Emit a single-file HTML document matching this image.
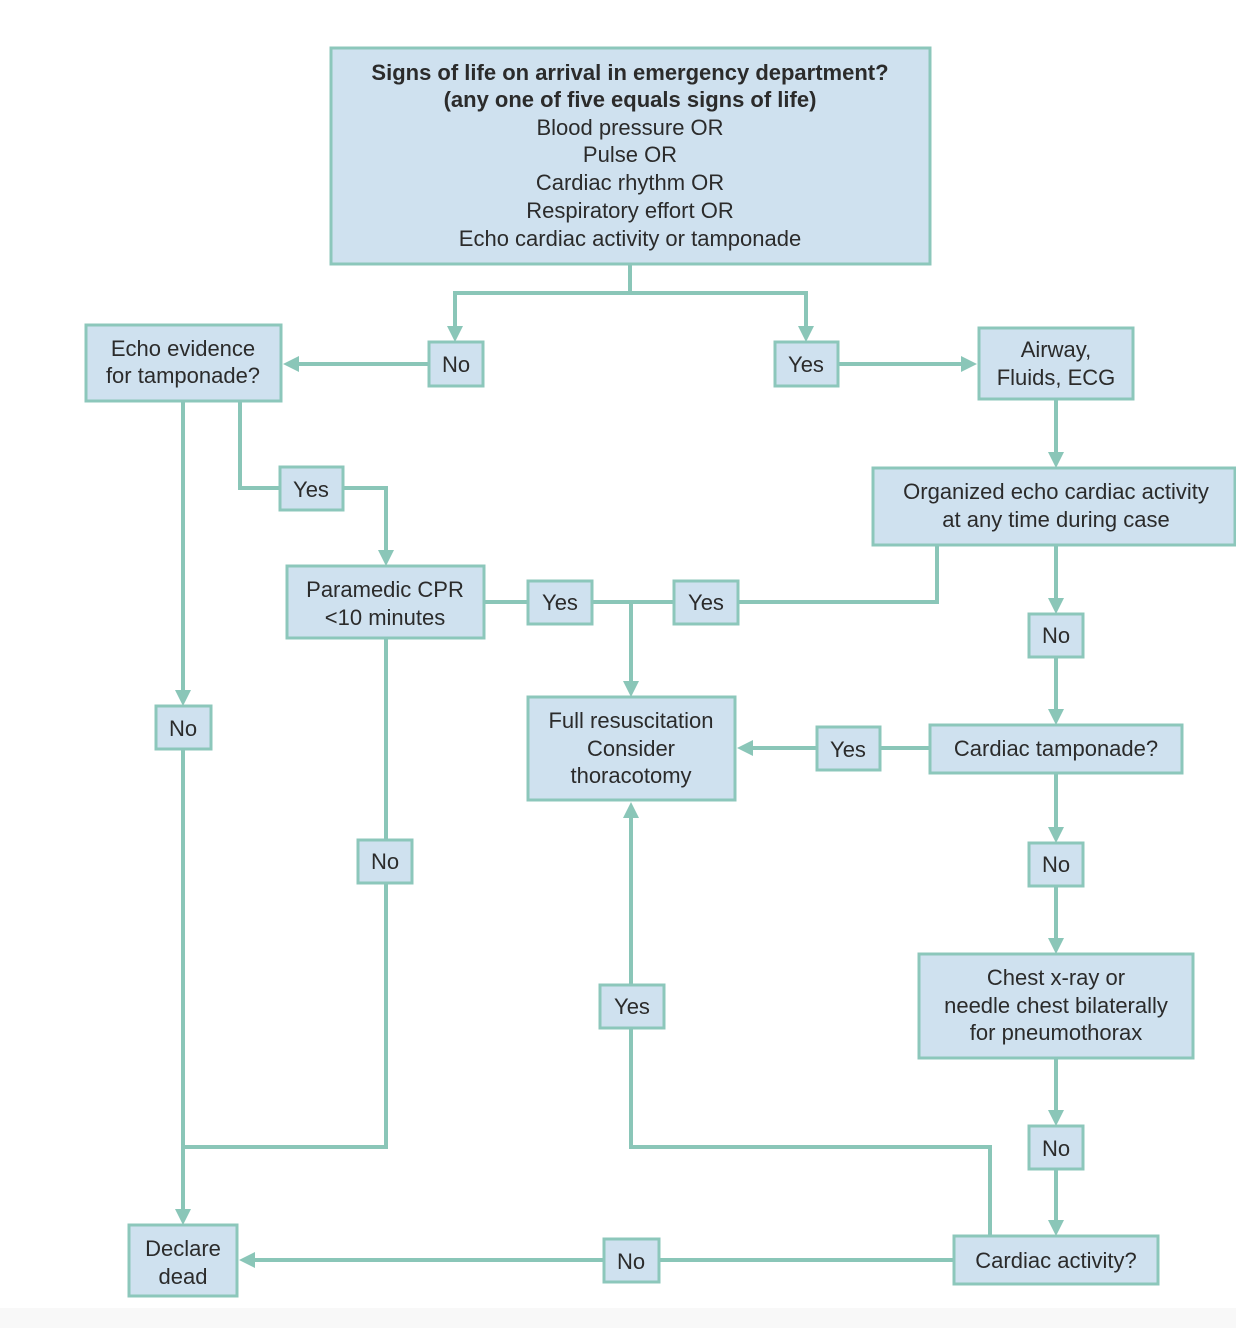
<!DOCTYPE html>
<html><head><meta charset="utf-8"><style>
html,body{margin:0;padding:0;background:#fff}
svg{display:block}
text{font-family:"Liberation Sans",Arial,sans-serif;font-size:22px;fill:#2b2b2b;text-anchor:middle}
.b{fill:#cfe1ef;stroke:#8cc7bb;stroke-width:3}
.l{fill:none;stroke:#8ac6b8;stroke-width:4}
.a{fill:#8ac6b8}
</style></head><body>
<svg width="1236" height="1328" viewBox="0 0 1236 1328" xmlns="http://www.w3.org/2000/svg">
<rect x="0" y="1308" width="1236" height="20" fill="#f8f8f8"/>
<!-- lines -->
<g class="l">
<polyline points="630,264 630,293"/>
<polyline points="455,336 455,293 806,293 806,336"/>
<line x1="429" y1="364" x2="296" y2="364"/>
<line x1="838" y1="364" x2="965" y2="364"/>
<line x1="1056" y1="399" x2="1056" y2="456"/>
<line x1="183" y1="401" x2="183" y2="694"/>
<line x1="183" y1="749" x2="183" y2="1212"/>
<polyline points="240,401 240,488 280,488"/>
<polyline points="343,488 386,488 386,554"/>
<line x1="484" y1="602" x2="528" y2="602"/>
<line x1="592" y1="602" x2="674" y2="602"/>
<line x1="631" y1="602" x2="631" y2="685"/>
<polyline points="738,602 937,602 937,545"/>
<line x1="1056" y1="545" x2="1056" y2="602"/>
<line x1="1056" y1="657" x2="1056" y2="713"/>
<line x1="930" y1="748" x2="880" y2="748"/>
<line x1="817" y1="748" x2="750" y2="748"/>
<line x1="1056" y1="773" x2="1056" y2="831"/>
<line x1="1056" y1="886" x2="1056" y2="942"/>
<line x1="1056" y1="1058" x2="1056" y2="1114"/>
<line x1="1056" y1="1169" x2="1056" y2="1224"/>
<line x1="386" y1="638" x2="386" y2="840"/>
<polyline points="386,883 386,1147 183,1147"/>
<polyline points="990,1236 990,1147 631,1147 631,1028"/>
<line x1="631" y1="985" x2="631" y2="815"/>
<line x1="954" y1="1260" x2="659" y2="1260"/>
<line x1="604" y1="1260" x2="252" y2="1260"/>
</g>
<!-- arrowheads -->
<g class="a">
<polygon points="447,326 463,326 455,342"/>
<polygon points="798,326 814,326 806,342"/>
<polygon points="299,356 299,372 283,364"/>
<polygon points="961,356 961,372 977,364"/>
<polygon points="1048,452 1064,452 1056,468"/>
<polygon points="175,690 191,690 183,706"/>
<polygon points="175,1209 191,1209 183,1225"/>
<polygon points="378,550 394,550 386,566"/>
<polygon points="623,681 639,681 631,697"/>
<polygon points="1048,598 1064,598 1056,614"/>
<polygon points="1048,709 1064,709 1056,725"/>
<polygon points="753,740 753,756 737,748"/>
<polygon points="1048,827 1064,827 1056,843"/>
<polygon points="1048,938 1064,938 1056,954"/>
<polygon points="1048,1110 1064,1110 1056,1126"/>
<polygon points="1048,1220 1064,1220 1056,1236"/>
<polygon points="623,818 639,818 631,802"/>
<polygon points="255,1252 255,1268 239,1260"/>
</g>
<!-- boxes -->
<rect class="b" x="331" y="48" width="599" height="216"/>
<rect class="b" x="86" y="325" width="195" height="76"/>
<rect class="b" x="429" y="342" width="54" height="44"/>
<rect class="b" x="775" y="342" width="63" height="44"/>
<rect class="b" x="979" y="328" width="154" height="71"/>
<rect class="b" x="280" y="467" width="63" height="43"/>
<rect class="b" x="873" y="468" width="362" height="77"/>
<rect class="b" x="287" y="566" width="197" height="72"/>
<rect class="b" x="528" y="581" width="64" height="43"/>
<rect class="b" x="674" y="581" width="64" height="43"/>
<rect class="b" x="1029" y="614" width="54" height="43"/>
<rect class="b" x="156" y="706" width="55" height="43"/>
<rect class="b" x="528" y="697" width="207" height="103"/>
<rect class="b" x="817" y="727" width="63" height="43"/>
<rect class="b" x="930" y="725" width="252" height="48"/>
<rect class="b" x="358" y="840" width="54" height="43"/>
<rect class="b" x="1029" y="843" width="54" height="43"/>
<rect class="b" x="919" y="954" width="274" height="104"/>
<rect class="b" x="600" y="985" width="64" height="43"/>
<rect class="b" x="1029" y="1126" width="54" height="43"/>
<rect class="b" x="129" y="1225" width="108" height="71"/>
<rect class="b" x="604" y="1239" width="55" height="43"/>
<rect class="b" x="954" y="1236" width="204" height="48"/>
<!-- text -->
<text x="630" y="80" font-weight="bold" style="font-weight:bold">Signs of life on arrival in emergency department?</text>
<text x="630" y="107" style="font-weight:bold">(any one of five equals signs of life)</text>
<text x="630" y="135">Blood pressure OR</text>
<text x="630" y="162">Pulse OR</text>
<text x="630" y="190">Cardiac rhythm OR</text>
<text x="630" y="218">Respiratory effort OR</text>
<text x="630" y="246">Echo cardiac activity or tamponade</text>
<text x="183" y="356">Echo evidence</text>
<text x="183" y="383">for tamponade?</text>
<text x="456" y="372">No</text>
<text x="806" y="372">Yes</text>
<text x="1056" y="357">Airway,</text>
<text x="1056" y="385">Fluids, ECG</text>
<text x="311" y="497">Yes</text>
<text x="1056" y="499">Organized echo cardiac activity</text>
<text x="1056" y="527">at any time during case</text>
<text x="385" y="597">Paramedic CPR</text>
<text x="385" y="625">&lt;10 minutes</text>
<text x="560" y="610">Yes</text>
<text x="706" y="610">Yes</text>
<text x="1056" y="643">No</text>
<text x="183" y="736">No</text>
<text x="631" y="728">Full resuscitation</text>
<text x="631" y="756">Consider</text>
<text x="631" y="783">thoracotomy</text>
<text x="848" y="757">Yes</text>
<text x="1056" y="756">Cardiac tamponade?</text>
<text x="385" y="869">No</text>
<text x="1056" y="872">No</text>
<text x="1056" y="985">Chest x-ray or</text>
<text x="1056" y="1013">needle chest bilaterally</text>
<text x="1056" y="1040">for pneumothorax</text>
<text x="632" y="1014">Yes</text>
<text x="1056" y="1156">No</text>
<text x="183" y="1256">Declare</text>
<text x="183" y="1284">dead</text>
<text x="631" y="1269">No</text>
<text x="1056" y="1268">Cardiac activity?</text>
</svg>
</body></html>
